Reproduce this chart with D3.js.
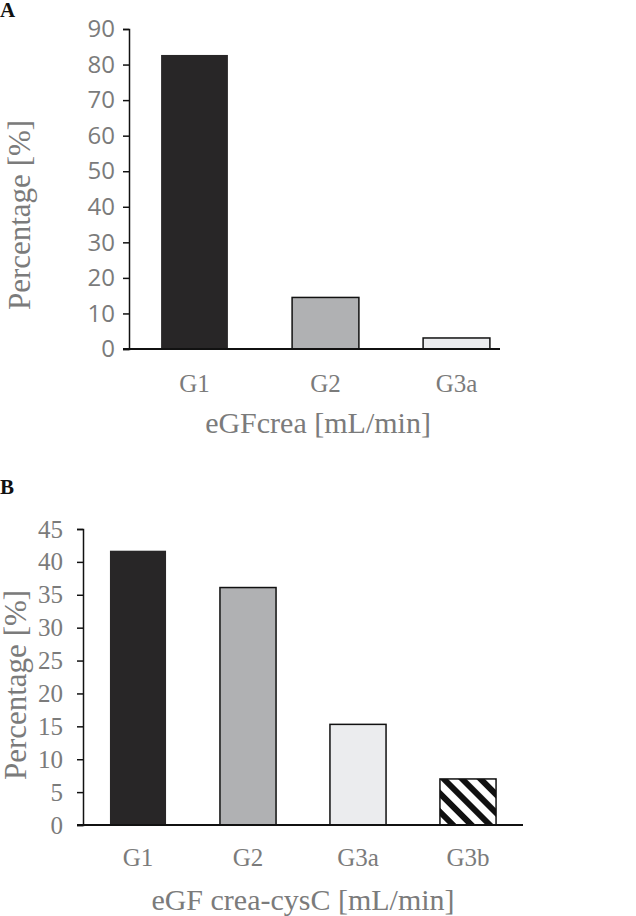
<!DOCTYPE html>
<html><head><meta charset="utf-8">
<script src="https://cdn.jsdelivr.net/npm/d3@7"></script>
<style>body{margin:0;background:#fff}</style></head>
<body><svg id="c" width="636" height="916"></svg>
<script>
const catsA = ["G1","G2","G3a"];
const valsA = [82.7,14.5,3.1];
const ticksA = [0,10,20,30,40,50,60,70,80,90];
const catsB = ["G1","G2","G3a","G3b"];
const valsB = [41.7,36.1,15.3,7.0];
const ticksB = [0,5,10,15,20,25,30,35,40,45];
const fills = ["#282627","#b0b1b3","#ebecee","url(#hatch)"];

const svg = d3.select("#c");
const defs = svg.append("defs");
const pat = defs.append("pattern").attr("id","hatch").attr("patternUnits","userSpaceOnUse")
  .attr("width",13).attr("height",13).attr("patternTransform","rotate(45)");
pat.append("rect").attr("width",13).attr("height",13).attr("fill","#fff");
pat.append("rect").attr("width",13).attr("height",6).attr("fill","#111");

const gray="#7b7b7b";
function panel(o){
  const x = d3.scaleBand().domain(o.cats).range([o.x0,o.x1]).paddingInner(0.49).paddingOuter(0.245);
  const y = d3.scaleLinear().domain([0,o.max]).range([o.y0,o.y1]);
  const g = svg.append("g");
  g.selectAll(".bar").data(o.vals).join("rect")
    .attr("x",(d,i)=>x(o.cats[i])).attr("width",x.bandwidth())
    .attr("y",d=>y(d)).attr("height",d=>y(0)-y(d))
    .attr("fill",(d,i)=>fills[i]).attr("stroke",(d,i)=>i==0?"none":"#111").attr("stroke-width",1.5);
  const ya = g.append("g").attr("transform",`translate(${o.x0},0)`)
    .call(d3.axisLeft(y).tickValues(o.ticks).tickSize(6).tickPadding(o.tickPad));
  ya.attr("font-size",null).attr("font-family",null);
  ya.select(".domain").attr("stroke","#111").attr("stroke-width",1.5);
  ya.selectAll(".tick line").attr("stroke","#111").attr("stroke-width",1.5);
  ya.selectAll("text").attr("fill",gray).style("font-family",o.tickFont).style("font-size",o.tickSize+"px");
  g.append("line").attr("x1",o.x0-6).attr("x2",o.axisEnd).attr("y1",y(0)).attr("y2",y(0))
    .attr("stroke","#111").attr("stroke-width",2);
  g.selectAll(".xl").data(o.cats).join("text")
    .attr("x",d=>x(d)+x.bandwidth()/2).attr("y",o.labY).attr("text-anchor","middle")
    .attr("fill",gray).style("font-family","Liberation Serif").style("font-size","25px").text(d=>d);
  g.append("text").attr("x",o.titleX).attr("y",o.titleY).attr("text-anchor","middle")
    .attr("fill",gray).style("font-family","Liberation Serif").style("font-size","30px").text(o.title);
  g.append("text").attr("transform",`translate(${o.ylX},${o.ylY}) rotate(-90)`).attr("text-anchor","middle")
    .attr("fill",gray).style("font-family","Liberation Serif").style("font-size","31px").text("Percentage [%]");
  svg.append("text").attr("x",0).attr("y",o.letterY).style("font-family","Liberation Serif")
    .attr("font-weight","bold").style("font-size","21px").attr("fill","#111").text(o.letter);
}
panel({cats:catsA,vals:valsA,ticks:ticksA,max:90,x0:129,x1:522,axisEnd:500,y0:349,y1:29,
  tickFont:"Open Sans",tickSize:24,tickPad:8,labY:392,title:"eGFcrea [mL/min]",titleX:318,titleY:433,
  ylX:30,ylY:215,letter:"A",letterY:17});
panel({cats:catsB,vals:valsB,ticks:ticksB,max:45,x0:83,x1:523,axisEnd:523,y0:825,y1:529,
  tickFont:"Liberation Serif",tickSize:25,tickPad:14,labY:866,title:"eGF crea-cysC [mL/min]",titleX:303,titleY:910,
  ylX:26,ylY:685,letter:"B",letterY:494});
</script></body></html>
